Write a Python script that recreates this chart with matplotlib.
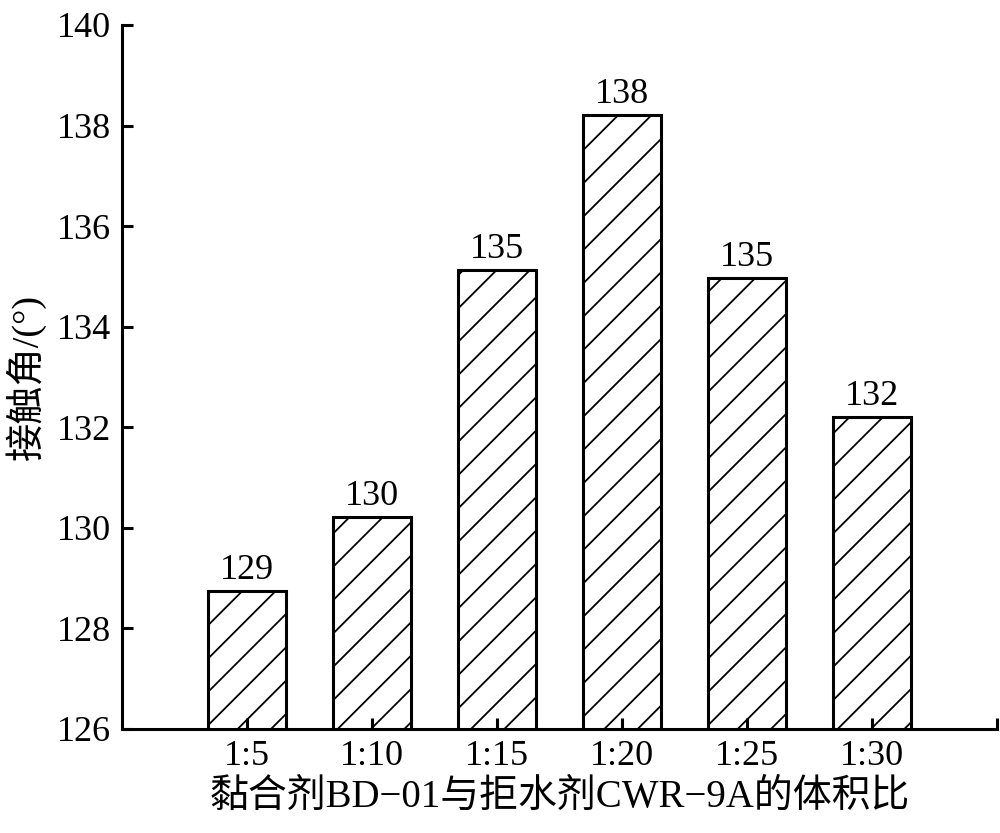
import matplotlib
matplotlib.use("Agg")
import matplotlib.pyplot as plt
import numpy as np

# Data
ratios = ["1:5", "1:10", "1:15", "1:20", "1:25", "1:30"]
angles = [128.74, 130.21, 135.13, 138.21, 134.97, 132.20]
labels = ["129", "130", "135", "138", "135", "132"]
yticks = [126, 128, 130, 132, 134, 136, 138, 140]

plt.rcParams['font.family'] = ['Liberation Serif', 'Noto Sans CJK SC']
plt.rcParams['hatch.linewidth'] = 1.3
plt.rcParams['axes.unicode_minus'] = False

fig = plt.figure(figsize=(10, 8.33), dpi=100)
ax = fig.add_axes([0.122, 0.125, 0.875, 0.845])

x = np.arange(len(ratios))
ax.bar(x, angles, width=0.62, bottom=0, color="white", edgecolor="black",
       linewidth=2.2, hatch="/")

# value labels above the bars
for xi, v, lab in zip(x, angles, labels):
    ax.text(xi, v + 0.08, lab, ha="center", va="bottom", fontsize=26)

ax.set_xlim(-1, 6)
ax.set_ylim(126, 140)
ax.set_yticks(yticks)
ax.set_xticks(x)
ax.set_xticklabels(ratios)
ax.set_xticks([6], minor=True)

for side in ("top", "right"):
    ax.spines[side].set_visible(False)
for side in ("left", "bottom"):
    ax.spines[side].set_linewidth(2.2)

ax.tick_params(axis="both", which="both", direction="in", length=8, width=2.2,
               labelsize=26, pad=8)

ax.set_xlabel("黏合剂BD\u221201与拒水剂CWR\u22129A的体积比", fontsize=28, labelpad=4)
ax.set_ylabel("接触角/(°)", fontsize=27.5, labelpad=8)

plt.savefig("out.png", dpi=100)
